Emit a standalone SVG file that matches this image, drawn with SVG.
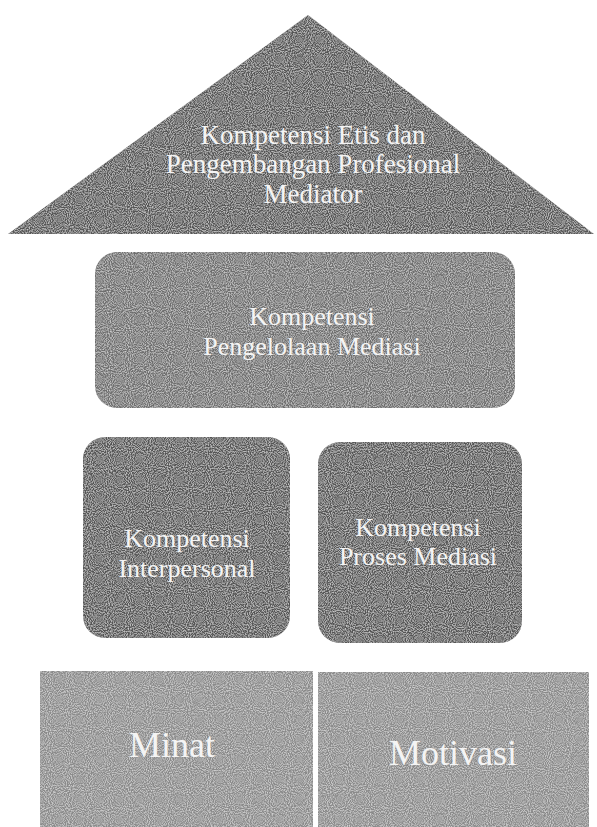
<svg xmlns="http://www.w3.org/2000/svg" width="597" height="827" viewBox="0 0 597 827">
<defs>
<filter id="grain" x="0" y="0" width="100%" height="100%">
<feTurbulence type="fractalNoise" baseFrequency="0.95" numOctaves="1" seed="3" result="n"/>
<feColorMatrix in="n" type="matrix" values="0 0 0 0 1  0 0 0 0 1  0 0 0 0 1  0 0 0 -1.3 0.8" result="w"/>
<feComposite in="w" in2="SourceGraphic" operator="in" result="wm"/>
<feMerge><feMergeNode in="SourceGraphic"/><feMergeNode in="wm"/></feMerge>
</filter>
</defs>
<style>
.lbl{font-family:"Liberation Serif","Times New Roman",serif;fill:#f4f4f4;text-anchor:middle;}
.t{font-size:27px;}
.m{font-size:26px;}
.b{font-size:36px;}
.dark{fill:#555555;}
.mid{fill:#6e6e6e;}
.light{fill:#8a8a8a;}
</style>
<rect width="597" height="827" fill="#ffffff"/>
<g id="node-roof">
<polygon class="dark" points="308,15 594,234 8,234" filter="url(#grain)"/>
<text class="lbl t" x="313" y="144">Kompetensi Etis dan</text>
<text class="lbl t" x="313" y="173">Pengembangan Profesional</text>
<text class="lbl t" x="313" y="203">Mediator</text>
</g>
<g id="node-pengelolaan">
<rect class="mid" x="95" y="252" width="420" height="156" rx="22" filter="url(#grain)"/>
<text class="lbl m" x="312" y="325">Kompetensi</text>
<text class="lbl m" x="312" y="355">Pengelolaan Mediasi</text>
</g>
<g id="node-interpersonal">
<rect class="dark" x="83" y="437" width="207" height="201" rx="22" filter="url(#grain)"/>
<text class="lbl m" x="187" y="547">Kompetensi</text>
<text class="lbl m" x="187" y="577">Interpersonal</text>
</g>
<g id="node-proses">
<rect class="dark" x="318" y="442" width="204" height="201" rx="22" filter="url(#grain)"/>
<text class="lbl m" x="418" y="536">Kompetensi</text>
<text class="lbl m" x="418" y="565">Proses Mediasi</text>
</g>
<g id="node-minat">
<rect class="light" x="40" y="671" width="273" height="156" filter="url(#grain)"/>
<text class="lbl b" x="172" y="757">Minat</text>
</g>
<g id="node-motivasi">
<rect class="light" x="318" y="672" width="271" height="155" filter="url(#grain)"/>
<text class="lbl b" x="453" y="765">Motivasi</text>
</g>
<g id="connectors"></g>
</svg>
